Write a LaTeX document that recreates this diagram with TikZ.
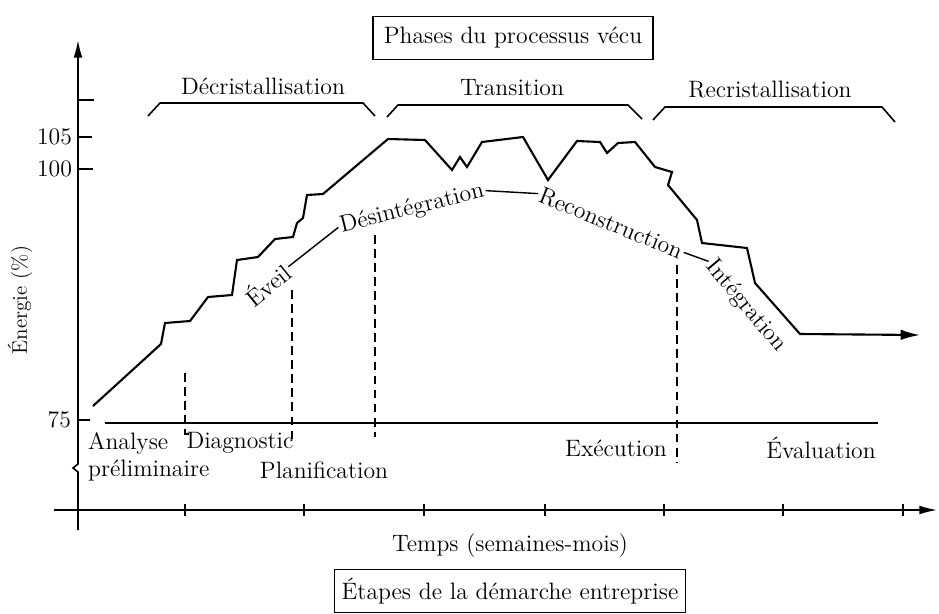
\documentclass[tikz,border=0pt]{standalone}
\usepackage{tikz}
\usetikzlibrary{positioning,calc,arrows.meta}

\begin{document}
\begin{tikzpicture}[
    x=0.02cm, y=-0.02cm,
    txt/.style={font=\fontsize{13.5}{15.5}\selectfont, inner sep=1pt},
    stage/.style={txt, inner sep=2pt},
    titlebox/.style={txt, draw, line width=0.8pt, minimum height=0.85cm, inner sep=4pt},
    axisline/.style={line width=0.9pt},
    energy/.style={line width=1.2pt, line join=miter},
    sepline/.style={line width=0.8pt, dash pattern=on 5pt off 3pt},
    bracket/.style={line width=0.9pt},
    tick/.style={line width=0.8pt}
]

\useasboundingbox (0,0) rectangle (939,613);

% Titles
\node[titlebox, minimum width=5.6cm] (phases) at (513,38) {Phases du processus vécu};
\node[titlebox, minimum width=6.9cm] (etapes) at (510,591) {Étapes de la démarche entreprise};

% Phase brackets
\draw[bracket] (148,116) -- (160,103) -- (363,103) -- (375,116);
\node[txt] (decri) at (263,86) {Décristallisation};
\draw[bracket] (387,117) -- (398,105) -- (628,105) -- (642,119);
\node[txt] (trans) at (512,88) {Transition};
\draw[bracket] (653,120) -- (665,107) -- (882,107) -- (895,122);
\node[txt] (recri) at (770,90) {Recristallisation};

% Energy axis
\draw[axisline, -{Latex[length=10pt,width=5pt]}] (78,530) -- (78,472) -- (73,468) -- (78,464) -- (78,40);
\draw[tick] (78,100) -- (94,100);
\draw[tick] (78,137) -- (92,137);
\draw[tick] (78,169) -- (93,169);
\draw[tick] (78,420) -- (90,420);
\node[txt, anchor=east] (t105) at (74,137) {105};
\node[txt, anchor=east] (t100) at (74,169) {100};
\node[txt, anchor=east] (t75) at (73,420) {75};
\node[txt, rotate=90, font=\fontsize{12}{14}\selectfont] (ylab) at (20,300) {Énergie (\%)};

% Time axis
\draw[axisline, -{Latex[length=10pt,width=5pt]}] (54,510) -- (937,510);
\foreach \x in {185,304,424,545,664,783,903}
  \draw[tick] (\x,504) -- (\x,516);
\node[txt] (xlab) at (510,546) {Temps (semaines-mois)};

% Baseline 75
\draw[axisline] (105,423) -- (878,423);

% Stage separators
\draw[sepline] (185,373) -- (185,434) -- (189,434);
\draw[sepline] (292,290) -- (292,440) -- (288,440);
\draw[sepline] (375,235) -- (375,437);
\draw[sepline] (677,265) -- (677,463);

% Stages
\node[txt, align=left, anchor=north west] (analyse) at (86,430) {Analyse\\préliminaire};
\node[stage] (diag) at (240,443) {Diagnostic};
\node[stage] (plan) at (324,470) {Planification};
\node[stage] (exec) at (616,448) {Exécution};
\node[stage] (eval) at (821,448) {Évaluation};

% Energy curve
\draw[energy, -{Latex[length=11pt,width=6pt]}]
  (93,406) -- (161,344) -- (165,323) -- (190,321) -- (208,297) -- (232,295)
  -- (237,260) -- (258,257) -- (275,239) -- (293,237) -- (297,223) -- (303,218)
  -- (307,195) -- (323,194) -- (388,139) -- (425,140) -- (452,170) -- (460,157)
  -- (467,167) -- (482,142) -- (523,137) -- (548,180) -- (577,141) -- (600,142)
  -- (607,153) -- (618,143) -- (635,142) -- (655,167) -- (672,172) -- (668,185)
  -- (697,220) -- (702,243) -- (747,248) -- (755,283) -- (800,334) -- (920,335);

% Process phases
\node[txt, rotate=39] (eveil) at (267,284) {Éveil};
\node[txt, rotate=14] (desint) at (412,209) {Désintégration};
\node[txt, rotate=-22] (recon) at (611,223) {Reconstruction};
\node[txt, rotate=-50] (integ) at (746,306) {Intégration};
\draw[tick] (eveil.east) -- (desint.west);
\draw[tick] (desint.east) -- (recon.west);
\draw[tick] (recon.east) -- (integ.west);

\end{tikzpicture}
\end{document}
